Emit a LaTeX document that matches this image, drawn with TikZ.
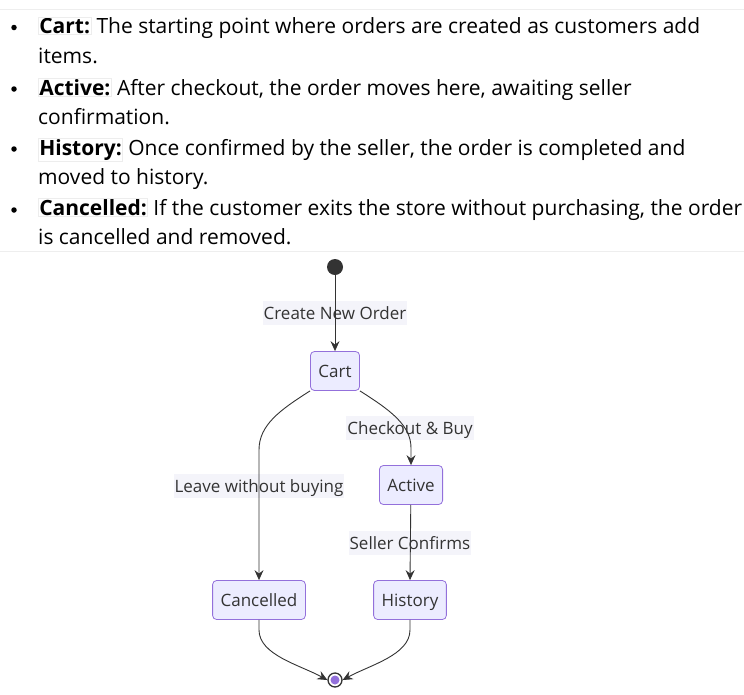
\documentclass[tikz,border=0pt]{standalone}
\usepackage{fontspec}
\setmainfont{Open Sans}
\usetikzlibrary{arrows.meta,positioning}

\definecolor{stfill}{HTML}{ECECFF}
\definecolor{stline}{HTML}{9370DB}
\definecolor{ink}{HTML}{333333}
\definecolor{lblfill}{HTML}{F4F4FA}
\definecolor{rulegray}{HTML}{EEEEEE}
\definecolor{boxgray}{HTML}{EDEDED}

\newcommand{\keyword}[1]{{\setlength{\fboxsep}{0.5pt}\setlength{\fboxrule}{0.6pt}\fcolorbox{boxgray}{white}{\textbf{#1}}}}

\tikzset{
  state/.style={draw=stline, fill=stfill, rounded corners=4pt, text=ink,
    font=\fontsize{17}{19}\selectfont, minimum height=39pt, inner xsep=8pt,
    text height=15pt, text depth=2pt, line width=0.8pt},
  lbl/.style={fill=lblfill, text=ink, font=\fontsize{17}{19}\selectfont,
    inner xsep=1pt, inner ysep=0pt, minimum height=24pt, text height=15pt, text depth=2pt},
  trans/.style={draw=ink, line width=0.9pt, -{Stealth[length=10pt,width=9pt,inset=3.5pt]}},
  itemline/.style={anchor=base west, inner sep=0pt, font=\fontsize{21}{30}\selectfont},
  dot/.style={circle, fill=black, inner sep=0pt, minimum size=5.5pt},
}

\begin{document}
\begin{tikzpicture}[x=1pt, y=-1pt]
  \useasboundingbox (0,0) rectangle (744,694);

  % Trennlinien
  \draw[rulegray, line width=1pt] (0,9) -- (744,9);
  \draw[rulegray, line width=1pt] (0,251) -- (744,251);

  % Aufzaehlung
  \node[dot] (b1) at (14,27.5) {};
  \node[itemline] (i1a) at (38,33.5) {\keyword{Cart:} The starting point where orders are created as customers add};
  \node[itemline] (i1b) at (38,63) {items.};
  \node[dot] (b2) at (14,89) {};
  \node[itemline] (i2a) at (38,95) {\keyword{Active:} After checkout, the order moves here, awaiting seller};
  \node[itemline] (i2b) at (38,124) {confirmation.};
  \node[dot] (b3) at (14,149) {};
  \node[itemline] (i3a) at (38,155) {\keyword{History:} Once confirmed by the seller, the order is completed and};
  \node[itemline] (i3b) at (38,184) {moved to history.};
  \node[dot] (b4) at (14,210) {};
  \node[itemline] (i4a) at (38,215) {\keyword{Cancelled:} If the customer exits the store without purchasing, the order};
  \node[itemline] (i4b) at (38,244) {is cancelled and removed.};

  % Zustaende
  \node[circle, fill=ink, minimum size=16pt, inner sep=0pt] (start) at (335,267) {};
  \node[state] (cart) at (335,371) {Cart};
  \node[state] (active) at (411,485) {Active};
  \node[state] (history) at (410,600) {History};
  \node[state] (cancelled) at (259,600) {Cancelled};
  \node[circle, draw=ink, fill=white, line width=1.3pt, minimum size=14pt, inner sep=0pt] (finish) at (335,680) {};
  \node[circle, fill=stline, minimum size=9pt, inner sep=0pt] (finishdot) at (335,680) {};

  % Beschriftungen
  \node[lbl] (lblcreate) at (335,313) {Create New Order};
  \node[lbl] (lblcheckout) at (410,428) {Checkout \& Buy};
  \node[lbl] (lblleave) at (259,486) {Leave without buying};
  \node[lbl] (lblconfirm) at (410,543) {Seller Confirms};

  \coordinate (bendL) at (259,450);
  \coordinate (bendR) at (411,448);

  % Uebergaenge
  \draw[trans] (start) -- (cart.north);
  \draw[trans] (cart.south east) .. controls (390,410) and (411,425) .. (bendR) -- (active.north);
  \draw[trans] (cart.south west) .. controls (280,410) and (259,425) .. (bendL) -- (cancelled.north);
  \draw[trans] (active) -- (history.north);
  \draw[trans] (cancelled.south) -- ++(0,10) .. controls (259,655) and (300,665) .. (finish.west);
  \draw[trans] (history.south) -- ++(0,10) .. controls (410,655) and (370,665) .. (finish.east);
\end{tikzpicture}
\end{document}
